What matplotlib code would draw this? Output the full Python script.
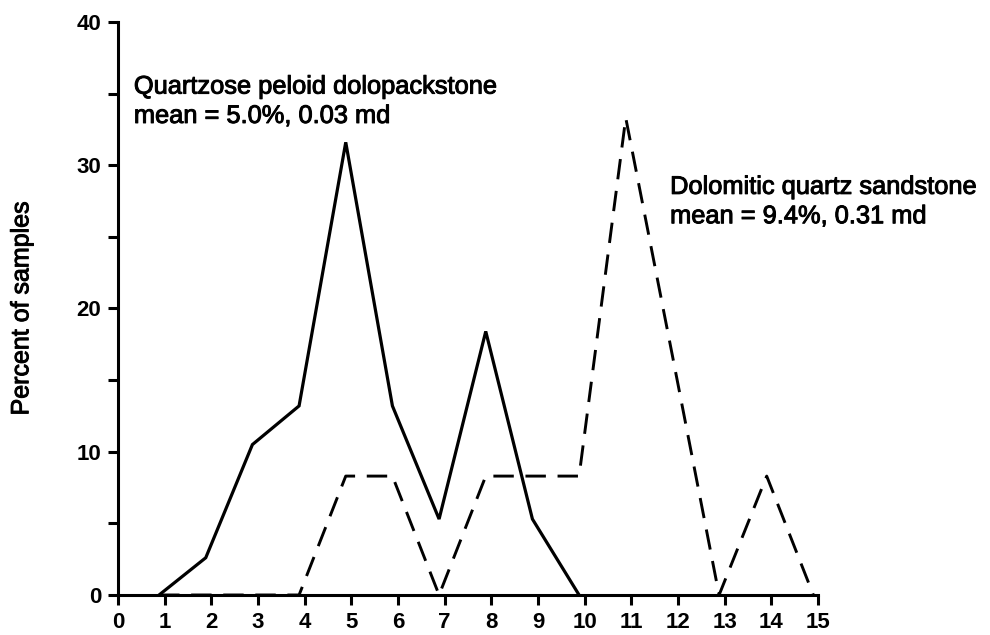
import numpy as np
import matplotlib.pyplot as plt
import matplotlib.patheffects as pe

plt.rcParams['font.family'] = ['Liberation Sans', 'DejaVu Sans']

# porosity classes (percent), plotted a touch left of each tick
x_packstone = [0.88, 1.88, 2.88, 3.88, 4.88, 5.88, 6.88, 7.88, 8.88, 9.88]
pct_packstone = [0.0, 2.6, 10.5, 13.2, 31.6, 13.2, 5.3, 18.4, 5.3, 0.0]

x_sandstone = [0.88, 3.88, 4.88, 5.88, 6.88, 7.88, 9.88, 10.88, 11.88, 12.88, 13.9, 14.9]
pct_sandstone = [0.0, 0.0, 8.3, 8.3, 0.0, 8.3, 8.3, 33.3, 16.7, 0.0, 8.3, 0.0]

packstone_label = ['Quartzose peloid dolopackstone', 'mean = 5.0%, 0.03 md']
sandstone_label = ['Dolomitic quartz sandstone', 'mean = 9.4%, 0.31 md']

# thicken regular glyphs a little
heavy = [pe.withStroke(linewidth=0.7, foreground='black')]

fig = plt.figure(figsize=(9.9, 6.35), dpi=100)
ax = fig.add_axes([0.1192, 0.063, 0.7071, 0.9024])

ax.plot(x_packstone, pct_packstone, color='black', lw=2.3, solid_joinstyle='miter')
ax.plot(x_sandstone, pct_sandstone, color='black', lw=2.1, dashes=(7, 4))

ax.set_xlim(0, 15)
ax.set_ylim(0, 40)
ax.set_xticks(np.arange(0, 16))
ax.set_yticks([0, 10, 20, 30, 40])
ax.set_yticks([5, 15, 25, 35], minor=True)

for side in ['top', 'right']:
    ax.spines[side].set_visible(False)
for side in ['left', 'bottom']:
    ax.spines[side].set_linewidth(2.2)

ax.tick_params(axis='both', which='both', width=2.2, direction='out', labelsize=16)
ax.tick_params(axis='y', which='both', length=7, pad=5)
ax.tick_params(axis='x', which='major', length=7, pad=5)
for lab in ax.get_xticklabels() + ax.get_yticklabels():
    lab.set_fontweight('bold')

ax.set_ylabel('Percent of samples', fontsize=18, path_effects=heavy)
ax.yaxis.set_label_coords(-0.121, 0.5)

# annotations, one call per line
for i, line in enumerate(packstone_label):
    ax.text(0.34, 35.0 - 2.05 * i, line, fontsize=18.3, ha='left', va='baseline',
            path_effects=heavy)
for i, line in enumerate(sandstone_label):
    ax.text(11.83, 28.0 - 2.05 * i, line, fontsize=18.3, ha='left', va='baseline',
            path_effects=heavy)

fig.savefig('out.png', dpi=100)
